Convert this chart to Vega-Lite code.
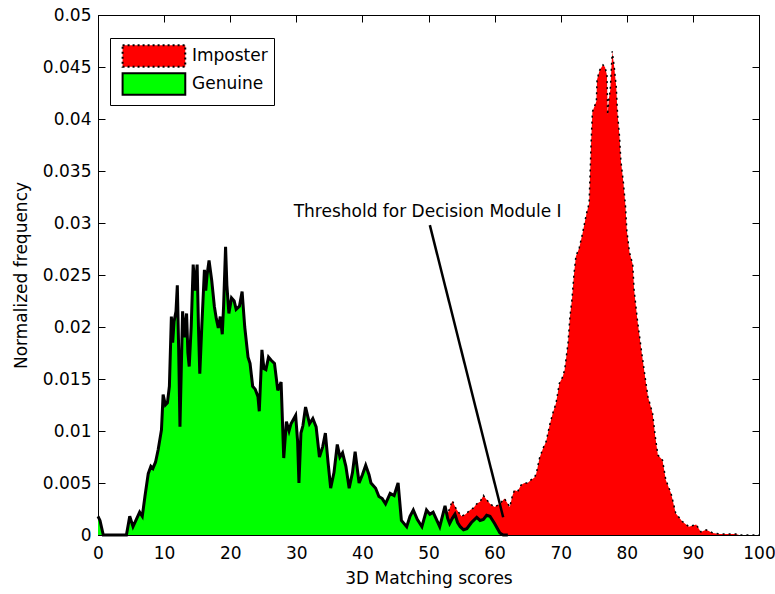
{
  "$schema": "https://vega.github.io/schema/vega-lite/v6.json",
  "width": 661,
  "height": 520,
  "autosize": "none",
  "padding": {"left": 98, "top": 15, "right": 16, "bottom": 59},
  "background": "white",
  "config": {
    "view": {"stroke": "black", "strokeWidth": 1},
    "font": "DejaVu Sans",
    "axis": {
      "grid": false,
      "domainColor": "black",
      "tickColor": "black",
      "labelColor": "black",
      "titleColor": "black",
      "labelFont": "DejaVu Sans",
      "titleFont": "DejaVu Sans",
      "labelFontSize": 17,
      "titleFontSize": 17,
      "titleFontWeight": "normal",
      "labelFlush": false,
      "labelOverlap": false,
      "tickSize": -7,
      "tickWidth": 1
    }
  },
  "datasets": {
    "imposter": [
      {"series": "Imposter", "x": 50, "y": 0},
      {"series": "Imposter", "x": 51.5, "y": 0},
      {"series": "Imposter", "x": 52.3, "y": 0.0012},
      {"series": "Imposter", "x": 53.0, "y": 0.0022},
      {"series": "Imposter", "x": 53.6, "y": 0.0033},
      {"series": "Imposter", "x": 54.2, "y": 0.0025},
      {"series": "Imposter", "x": 55.0, "y": 0.0018},
      {"series": "Imposter", "x": 55.6, "y": 0.002},
      {"series": "Imposter", "x": 56.3, "y": 0.0024},
      {"series": "Imposter", "x": 56.8, "y": 0.0026},
      {"series": "Imposter", "x": 57.3, "y": 0.003},
      {"series": "Imposter", "x": 57.8, "y": 0.0032},
      {"series": "Imposter", "x": 58.3, "y": 0.0038},
      {"series": "Imposter", "x": 58.8, "y": 0.0034},
      {"series": "Imposter", "x": 59.3, "y": 0.003},
      {"series": "Imposter", "x": 60.0, "y": 0.0027},
      {"series": "Imposter", "x": 60.8, "y": 0.003},
      {"series": "Imposter", "x": 61.5, "y": 0.0035},
      {"series": "Imposter", "x": 62.3, "y": 0.0027},
      {"series": "Imposter", "x": 62.7, "y": 0.0038},
      {"series": "Imposter", "x": 63.0, "y": 0.0043},
      {"series": "Imposter", "x": 63.5, "y": 0.0042},
      {"series": "Imposter", "x": 64.0, "y": 0.0048},
      {"series": "Imposter", "x": 64.5, "y": 0.005},
      {"series": "Imposter", "x": 65.0, "y": 0.005},
      {"series": "Imposter", "x": 65.5, "y": 0.0053},
      {"series": "Imposter", "x": 66.0, "y": 0.0055},
      {"series": "Imposter", "x": 66.3, "y": 0.0059},
      {"series": "Imposter", "x": 66.8, "y": 0.0074},
      {"series": "Imposter", "x": 67.3, "y": 0.0083},
      {"series": "Imposter", "x": 67.8, "y": 0.009},
      {"series": "Imposter", "x": 68.3, "y": 0.0105},
      {"series": "Imposter", "x": 68.8, "y": 0.0117},
      {"series": "Imposter", "x": 69.3, "y": 0.0127},
      {"series": "Imposter", "x": 69.8, "y": 0.0146},
      {"series": "Imposter", "x": 70.3, "y": 0.0152},
      {"series": "Imposter", "x": 70.6, "y": 0.0159},
      {"series": "Imposter", "x": 71.1, "y": 0.0184},
      {"series": "Imposter", "x": 71.4, "y": 0.021},
      {"series": "Imposter", "x": 71.7, "y": 0.0226},
      {"series": "Imposter", "x": 72.0, "y": 0.025},
      {"series": "Imposter", "x": 72.3, "y": 0.0268},
      {"series": "Imposter", "x": 72.8, "y": 0.0276},
      {"series": "Imposter", "x": 73.3, "y": 0.029},
      {"series": "Imposter", "x": 73.9, "y": 0.0309},
      {"series": "Imposter", "x": 74.3, "y": 0.0319},
      {"series": "Imposter", "x": 74.5, "y": 0.0357},
      {"series": "Imposter", "x": 74.6, "y": 0.0377},
      {"series": "Imposter", "x": 74.8, "y": 0.0407},
      {"series": "Imposter", "x": 75.1, "y": 0.0412},
      {"series": "Imposter", "x": 75.4, "y": 0.0417},
      {"series": "Imposter", "x": 75.5, "y": 0.0438},
      {"series": "Imposter", "x": 75.9, "y": 0.0447},
      {"series": "Imposter", "x": 76.4, "y": 0.0452},
      {"series": "Imposter", "x": 76.7, "y": 0.045},
      {"series": "Imposter", "x": 77.0, "y": 0.0442},
      {"series": "Imposter", "x": 77.1, "y": 0.0404},
      {"series": "Imposter", "x": 77.3, "y": 0.042},
      {"series": "Imposter", "x": 77.5, "y": 0.0428},
      {"series": "Imposter", "x": 77.8, "y": 0.0465},
      {"series": "Imposter", "x": 78.1, "y": 0.045},
      {"series": "Imposter", "x": 78.4, "y": 0.0431},
      {"series": "Imposter", "x": 78.6, "y": 0.0405},
      {"series": "Imposter", "x": 78.9, "y": 0.0383},
      {"series": "Imposter", "x": 79.1, "y": 0.036},
      {"series": "Imposter", "x": 79.5, "y": 0.0338},
      {"series": "Imposter", "x": 79.8, "y": 0.0316},
      {"series": "Imposter", "x": 80.0, "y": 0.0293},
      {"series": "Imposter", "x": 80.4, "y": 0.0272},
      {"series": "Imposter", "x": 80.9, "y": 0.026},
      {"series": "Imposter", "x": 81.1, "y": 0.0236},
      {"series": "Imposter", "x": 81.6, "y": 0.0207},
      {"series": "Imposter", "x": 82.2, "y": 0.0178},
      {"series": "Imposter", "x": 82.7, "y": 0.0155},
      {"series": "Imposter", "x": 83.2, "y": 0.0133},
      {"series": "Imposter", "x": 83.9, "y": 0.0117},
      {"series": "Imposter", "x": 84.3, "y": 0.0095},
      {"series": "Imposter", "x": 84.7, "y": 0.0077},
      {"series": "Imposter", "x": 85.4, "y": 0.0072},
      {"series": "Imposter", "x": 85.9, "y": 0.0053},
      {"series": "Imposter", "x": 86.7, "y": 0.004},
      {"series": "Imposter", "x": 87.4, "y": 0.0021},
      {"series": "Imposter", "x": 88.4, "y": 0.0013},
      {"series": "Imposter", "x": 89.4, "y": 0.0008},
      {"series": "Imposter", "x": 90.5, "y": 0.001},
      {"series": "Imposter", "x": 91.2, "y": 0.0003},
      {"series": "Imposter", "x": 92.0, "y": 0.0005},
      {"series": "Imposter", "x": 93.0, "y": 0.0002},
      {"series": "Imposter", "x": 94.0, "y": 0.0001},
      {"series": "Imposter", "x": 96.5, "y": 0.0001},
      {"series": "Imposter", "x": 97.0, "y": 0},
      {"series": "Imposter", "x": 100, "y": 0}
    ],
    "genuine": [
      {"series": "Genuine", "x": 0, "y": 0.0018},
      {"series": "Genuine", "x": 0.3, "y": 0.0014},
      {"series": "Genuine", "x": 0.8, "y": 0},
      {"series": "Genuine", "x": 4.3, "y": 0},
      {"series": "Genuine", "x": 4.8, "y": 0.0018},
      {"series": "Genuine", "x": 5.3, "y": 0.0008},
      {"series": "Genuine", "x": 5.8, "y": 0.0015},
      {"series": "Genuine", "x": 6.3, "y": 0.0022},
      {"series": "Genuine", "x": 6.7, "y": 0.0018},
      {"series": "Genuine", "x": 7.1, "y": 0.0037},
      {"series": "Genuine", "x": 7.6, "y": 0.0059},
      {"series": "Genuine", "x": 8.0, "y": 0.0066},
      {"series": "Genuine", "x": 8.3, "y": 0.0064},
      {"series": "Genuine", "x": 8.7, "y": 0.007},
      {"series": "Genuine", "x": 9.1, "y": 0.0082},
      {"series": "Genuine", "x": 9.6, "y": 0.0101},
      {"series": "Genuine", "x": 9.85, "y": 0.0135},
      {"series": "Genuine", "x": 10.2, "y": 0.0125},
      {"series": "Genuine", "x": 10.5, "y": 0.0127},
      {"series": "Genuine", "x": 10.8, "y": 0.0143},
      {"series": "Genuine", "x": 11.1, "y": 0.021},
      {"series": "Genuine", "x": 11.3, "y": 0.0185},
      {"series": "Genuine", "x": 11.5, "y": 0.0205},
      {"series": "Genuine", "x": 11.8, "y": 0.0215},
      {"series": "Genuine", "x": 12.0, "y": 0.024},
      {"series": "Genuine", "x": 12.2, "y": 0.018},
      {"series": "Genuine", "x": 12.4, "y": 0.0104},
      {"series": "Genuine", "x": 12.6, "y": 0.016},
      {"series": "Genuine", "x": 12.8, "y": 0.0215},
      {"series": "Genuine", "x": 13.1, "y": 0.019},
      {"series": "Genuine", "x": 13.4, "y": 0.0213},
      {"series": "Genuine", "x": 13.6, "y": 0.0175},
      {"series": "Genuine", "x": 13.8, "y": 0.0162},
      {"series": "Genuine", "x": 14.1, "y": 0.02},
      {"series": "Genuine", "x": 14.4, "y": 0.026},
      {"series": "Genuine", "x": 14.7, "y": 0.0235},
      {"series": "Genuine", "x": 15.0, "y": 0.026},
      {"series": "Genuine", "x": 15.2, "y": 0.02},
      {"series": "Genuine", "x": 15.4, "y": 0.0155},
      {"series": "Genuine", "x": 15.7, "y": 0.02},
      {"series": "Genuine", "x": 16.1, "y": 0.0255},
      {"series": "Genuine", "x": 16.3, "y": 0.0235},
      {"series": "Genuine", "x": 16.5, "y": 0.025},
      {"series": "Genuine", "x": 16.8, "y": 0.0264},
      {"series": "Genuine", "x": 17.2, "y": 0.0245},
      {"series": "Genuine", "x": 17.6, "y": 0.022},
      {"series": "Genuine", "x": 17.9, "y": 0.0208},
      {"series": "Genuine", "x": 18.2, "y": 0.0199},
      {"series": "Genuine", "x": 18.5, "y": 0.021},
      {"series": "Genuine", "x": 18.8, "y": 0.0193},
      {"series": "Genuine", "x": 19.0, "y": 0.022},
      {"series": "Genuine", "x": 19.3, "y": 0.0277},
      {"series": "Genuine", "x": 19.5, "y": 0.024},
      {"series": "Genuine", "x": 19.8, "y": 0.0213},
      {"series": "Genuine", "x": 20.2, "y": 0.0228},
      {"series": "Genuine", "x": 20.6, "y": 0.0225},
      {"series": "Genuine", "x": 20.9, "y": 0.0217},
      {"series": "Genuine", "x": 21.4, "y": 0.022},
      {"series": "Genuine", "x": 21.8, "y": 0.0234},
      {"series": "Genuine", "x": 22.2, "y": 0.02},
      {"series": "Genuine", "x": 22.7, "y": 0.0171},
      {"series": "Genuine", "x": 23.0, "y": 0.0165},
      {"series": "Genuine", "x": 23.4, "y": 0.0143},
      {"series": "Genuine", "x": 23.8, "y": 0.014},
      {"series": "Genuine", "x": 24.2, "y": 0.0133},
      {"series": "Genuine", "x": 24.4, "y": 0.0119},
      {"series": "Genuine", "x": 24.8, "y": 0.0178},
      {"series": "Genuine", "x": 25.1, "y": 0.016},
      {"series": "Genuine", "x": 25.4, "y": 0.0159},
      {"series": "Genuine", "x": 25.8, "y": 0.0171},
      {"series": "Genuine", "x": 26.2, "y": 0.0168},
      {"series": "Genuine", "x": 26.7, "y": 0.0165},
      {"series": "Genuine", "x": 27.2, "y": 0.0139},
      {"series": "Genuine", "x": 27.7, "y": 0.0147},
      {"series": "Genuine", "x": 28.1, "y": 0.0074},
      {"series": "Genuine", "x": 28.5, "y": 0.0109},
      {"series": "Genuine", "x": 28.9, "y": 0.01},
      {"series": "Genuine", "x": 29.2, "y": 0.0107},
      {"series": "Genuine", "x": 29.9, "y": 0.0115},
      {"series": "Genuine", "x": 30.2, "y": 0.009},
      {"series": "Genuine", "x": 30.4, "y": 0.005},
      {"series": "Genuine", "x": 30.7, "y": 0.0098},
      {"series": "Genuine", "x": 31.0, "y": 0.0105},
      {"series": "Genuine", "x": 31.4, "y": 0.0123},
      {"series": "Genuine", "x": 32.0, "y": 0.0107},
      {"series": "Genuine", "x": 32.5, "y": 0.0112},
      {"series": "Genuine", "x": 33.0, "y": 0.0104},
      {"series": "Genuine", "x": 33.5, "y": 0.0075},
      {"series": "Genuine", "x": 34.0, "y": 0.0085},
      {"series": "Genuine", "x": 34.4, "y": 0.0098},
      {"series": "Genuine", "x": 34.8, "y": 0.007},
      {"series": "Genuine", "x": 35.2, "y": 0.0045},
      {"series": "Genuine", "x": 35.7, "y": 0.006},
      {"series": "Genuine", "x": 36.2, "y": 0.0087},
      {"series": "Genuine", "x": 36.6, "y": 0.0075},
      {"series": "Genuine", "x": 37.0, "y": 0.0079},
      {"series": "Genuine", "x": 37.5, "y": 0.0066},
      {"series": "Genuine", "x": 38.0, "y": 0.0045},
      {"series": "Genuine", "x": 38.5, "y": 0.006},
      {"series": "Genuine", "x": 38.9, "y": 0.008},
      {"series": "Genuine", "x": 39.5, "y": 0.005},
      {"series": "Genuine", "x": 40.0, "y": 0.0058},
      {"series": "Genuine", "x": 40.5, "y": 0.0067},
      {"series": "Genuine", "x": 41.0, "y": 0.0058},
      {"series": "Genuine", "x": 41.3, "y": 0.005},
      {"series": "Genuine", "x": 42.0, "y": 0.0045},
      {"series": "Genuine", "x": 42.5, "y": 0.0037},
      {"series": "Genuine", "x": 43.0, "y": 0.0035},
      {"series": "Genuine", "x": 43.5, "y": 0.003},
      {"series": "Genuine", "x": 44.2, "y": 0.004},
      {"series": "Genuine", "x": 44.8, "y": 0.0038},
      {"series": "Genuine", "x": 45.4, "y": 0.005},
      {"series": "Genuine", "x": 45.9, "y": 0.0014},
      {"series": "Genuine", "x": 46.7, "y": 0.0008},
      {"series": "Genuine", "x": 47.2, "y": 0.0018},
      {"series": "Genuine", "x": 47.7, "y": 0.0024},
      {"series": "Genuine", "x": 48.3, "y": 0.0015},
      {"series": "Genuine", "x": 49.0, "y": 0.0008},
      {"series": "Genuine", "x": 49.7, "y": 0.0024},
      {"series": "Genuine", "x": 50.2, "y": 0.002},
      {"series": "Genuine", "x": 50.7, "y": 0.0022},
      {"series": "Genuine", "x": 51.2, "y": 0.0015},
      {"series": "Genuine", "x": 51.7, "y": 0.0008},
      {"series": "Genuine", "x": 52.1, "y": 0.0018},
      {"series": "Genuine", "x": 52.5, "y": 0.0028},
      {"series": "Genuine", "x": 52.9, "y": 0.0016},
      {"series": "Genuine", "x": 53.2, "y": 0.0011},
      {"series": "Genuine", "x": 53.6, "y": 0.0016},
      {"series": "Genuine", "x": 54.0, "y": 0.002},
      {"series": "Genuine", "x": 54.4, "y": 0.0012},
      {"series": "Genuine", "x": 54.8, "y": 0.0008},
      {"series": "Genuine", "x": 55.3, "y": 0.0005},
      {"series": "Genuine", "x": 55.8, "y": 0.0006},
      {"series": "Genuine", "x": 56.5, "y": 0.0012},
      {"series": "Genuine", "x": 57.3, "y": 0.0017},
      {"series": "Genuine", "x": 57.8, "y": 0.0014},
      {"series": "Genuine", "x": 58.3, "y": 0.0015},
      {"series": "Genuine", "x": 58.8, "y": 0.0019},
      {"series": "Genuine", "x": 59.3, "y": 0.0018},
      {"series": "Genuine", "x": 60.0, "y": 0.0011},
      {"series": "Genuine", "x": 60.8, "y": 0.0002},
      {"series": "Genuine", "x": 61.3, "y": 0},
      {"series": "Genuine", "x": 62.0, "y": 0}
    ],
    "note": [
      {"label": "Threshold for Decision Module I", "x": 29.6, "y": 0.0311, "x2": 50.2, "y2": 0.0298, "xe": 61.3, "ye": 0.0017}
    ]
  },
  "resolve": {
    "scale": {"x": "shared", "y": "shared"},
    "axis": {"x": "independent", "y": "independent"}
  },
  "layer": [
    {
      "data": {"name": "imposter"},
      "mark": {"type": "area", "interpolate": "linear", "opacity": 1},
      "encoding": {
        "x": {"field": "x", "type": "quantitative",
          "scale": {"domain": [0, 100], "nice": false, "zero": false},
          "axis": {"orient": "bottom", "values": [0,10,20,30,40,50,60,70,80,90,100], "title": "3D Matching scores", "labelPadding": 17, "titlePadding": 9}},
        "y": {"field": "y", "type": "quantitative",
          "scale": {"domain": [0, 0.05], "nice": false},
          "axis": {"orient": "left", "values": [0,0.005,0.01,0.015,0.02,0.025,0.03,0.035,0.04,0.045,0.05], "format": "~g", "title": "Normalized frequency", "labelPadding": 14, "titlePadding": 12}},
        "color": {"field": "series", "type": "nominal",
          "scale": {"domain": ["Imposter", "Genuine"], "range": ["#ff0000", "#00ff00"]},
          "legend": {
            "orient": "none", "legendX": 12, "legendY": 23,
            "title": null,
            "symbolType": "M-0.5,-1H5.3V1H-0.5Z",
            "symbolSize": 467,
            "symbolStrokeColor": "black",
            "symbolStrokeWidth": 2,
            "symbolOpacity": 1,
            "labelFont": "DejaVu Sans",
            "labelFontSize": 17,
            "labelColor": "black",
            "labelOffset": 52,
            "strokeColor": "black",
            "fillColor": "white",
            "padding": 6,
            "rowPadding": -2,
            "encode": {"symbols": {"update": {"stroke": {"value": "black"}, "strokeDash": {"signal": "datum.value === 'Imposter' ? [2, 3] : [1, 0]"}}}}
          }}
      }
    },
    {
      "data": {"name": "imposter"},
      "mark": {"type": "line", "interpolate": "linear", "color": "black", "strokeWidth": 1.5, "strokeDash": [2, 4]},
      "encoding": {
        "x": {"field": "x", "type": "quantitative", "axis": null},
        "y": {"field": "y", "type": "quantitative", "axis": null}
      }
    },
    {
      "data": {"name": "genuine"},
      "mark": {"type": "area", "interpolate": "linear", "opacity": 1},
      "encoding": {
        "x": {"field": "x", "type": "quantitative",
          "axis": {"orient": "top", "values": [0,10,20,30,40,50,60,70,80,90,100], "labels": false, "title": null}},
        "y": {"field": "y", "type": "quantitative",
          "axis": {"orient": "right", "values": [0,0.005,0.01,0.015,0.02,0.025,0.03,0.035,0.04,0.045,0.05], "labels": false, "title": null}},
        "color": {"field": "series", "type": "nominal"}
      }
    },
    {
      "data": {"name": "genuine"},
      "mark": {"type": "line", "interpolate": "linear", "color": "black", "strokeWidth": 3},
      "encoding": {
        "x": {"field": "x", "type": "quantitative", "axis": null},
        "y": {"field": "y", "type": "quantitative", "axis": null}
      }
    },
    {
      "data": {"name": "note"},
      "mark": {"type": "rule", "color": "black", "strokeWidth": 2.5},
      "encoding": {
        "x": {"field": "x2", "type": "quantitative", "axis": null},
        "y": {"field": "y2", "type": "quantitative", "axis": null},
        "x2": {"field": "xe"},
        "y2": {"field": "ye"}
      }
    },
    {
      "data": {"name": "note"},
      "mark": {"type": "text", "align": "left", "baseline": "middle", "font": "DejaVu Sans", "fontSize": 17, "color": "black"},
      "encoding": {
        "x": {"field": "x", "type": "quantitative", "axis": null},
        "y": {"field": "y", "type": "quantitative", "axis": null},
        "text": {"field": "label"}
      }
    }
  ]
}
